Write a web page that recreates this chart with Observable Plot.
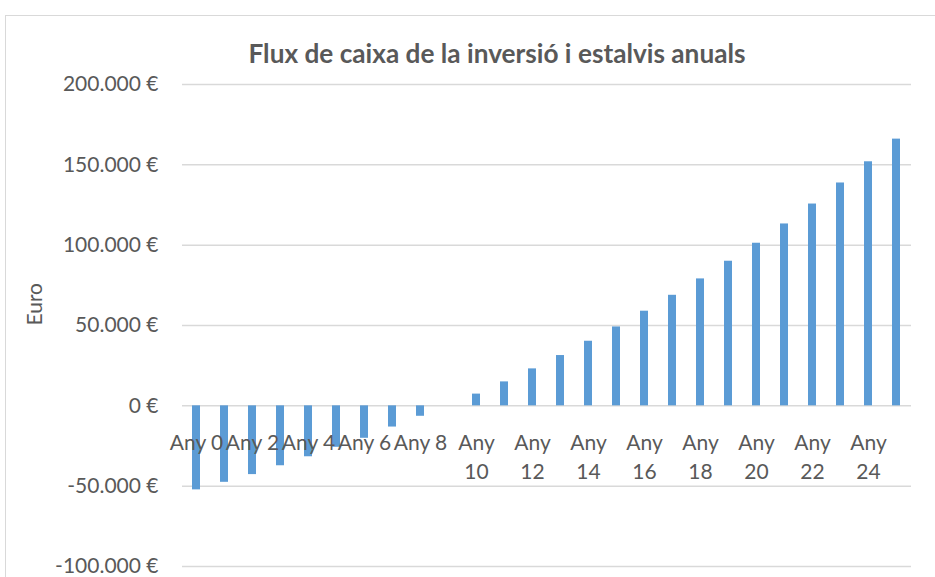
<!DOCTYPE html>
<html>
<head>
<meta charset="utf-8">
<script src="https://cdn.jsdelivr.net/npm/d3@7"></script>
<script src="https://cdn.jsdelivr.net/npm/@observablehq/plot@0.6"></script>
<style>
  html, body { margin: 0; padding: 0; background: #fff; }
  #wrap { position: relative; width: 935px; height: 577px; overflow: hidden; background: #fff; }
  #frame { position: absolute; left: 5px; top: 15px; width: 1000px; height: 1000px; border: 1px solid #d9d9d9; box-sizing: border-box; }
  #chart { position: absolute; left: 0; top: 0; }
  #chart svg { background: transparent; }
</style>
</head>
<body>
<div id="wrap"><div id="frame"></div><div id="chart"></div></div>
<script>
const title = "Flux de caixa de la inversió i estalvis anuals";
const yAxisTitle = "Euro";
const categories = ["Any 0","Any 1","Any 2","Any 3","Any 4","Any 5","Any 6","Any 7","Any 8","Any 9",
  "Any 10","Any 11","Any 12","Any 13","Any 14","Any 15","Any 16","Any 17","Any 18","Any 19",
  "Any 20","Any 21","Any 22","Any 23","Any 24","Any 25"];
const values = [-52300, -47600, -42800, -37300, -31700, -25800, -20200, -13200, -6500, 0,
  7300, 14900, 23000, 31300, 40200, 49100, 58900, 68800, 79000, 90000,
  101200, 113200, 125600, 138700, 151900, 166000];
const xTickLabels = ["Any 0","Any 2","Any 4","Any 6","Any 8","Any 10","Any 12","Any 14","Any 16","Any 18","Any 20","Any 22","Any 24"];
const yTicks = [-100000, -50000, 0, 50000, 100000, 150000, 200000];

const data = categories.map((c, i) => ({year: c, value: values[i]}));
const fmt = d => (d < 0 ? "-" : "") + d3.format(",")(Math.abs(d)).replace(/,/g, ".") + " €";
const wrapLabel = s => s.replace(/ (\d\d)$/, "\n$1");

const FONT = "Lato, 'Open Sans', sans-serif";
const TXT = "#595959";

const chart = Plot.plot({
  width: 935,
  height: 577,
  marginLeft: 182,
  marginRight: 24,
  marginTop: 84,
  marginBottom: 11,
  style: {fontFamily: FONT, color: TXT, background: "transparent"},
  x: {domain: categories, paddingInner: 0.7, paddingOuter: 0.35, axis: null},
  y: {domain: [-100000, 200000], axis: null},
  marks: [
    Plot.gridY(yTicks, {stroke: "#d9d9d9", strokeOpacity: 1, strokeWidth: 1.5}),
    Plot.barY(data, {x: "year", y: "value", fill: "#5B9BD5"}),
    Plot.axisY(yTicks, {tickSize: 0, tickPadding: 24, tickFormat: fmt, fontSize: 21, fill: TXT, label: null}),
    Plot.text(xTickLabels, {x: d => d, y: 0, text: wrapLabel, lineAnchor: "top", dy: 24, lineHeight: 1.38, fontSize: 21, fill: TXT}),
    Plot.text([yAxisTitle], {frameAnchor: "left", dx: -147, rotate: -90, fontSize: 21, fill: TXT}),
    Plot.text([title], {frameAnchor: "top", dx: -50, dy: -22, lineAnchor: "bottom", fontSize: 26.5, fontWeight: "bold", fill: TXT, className: "chart-title"})
  ]
});

const t = chart.querySelector(".chart-title text");
if (t) { t.setAttribute("textLength", 497); t.setAttribute("lengthAdjust", "spacingAndGlyphs"); }
document.getElementById("chart").appendChild(chart);
</script>
</body>
</html>
